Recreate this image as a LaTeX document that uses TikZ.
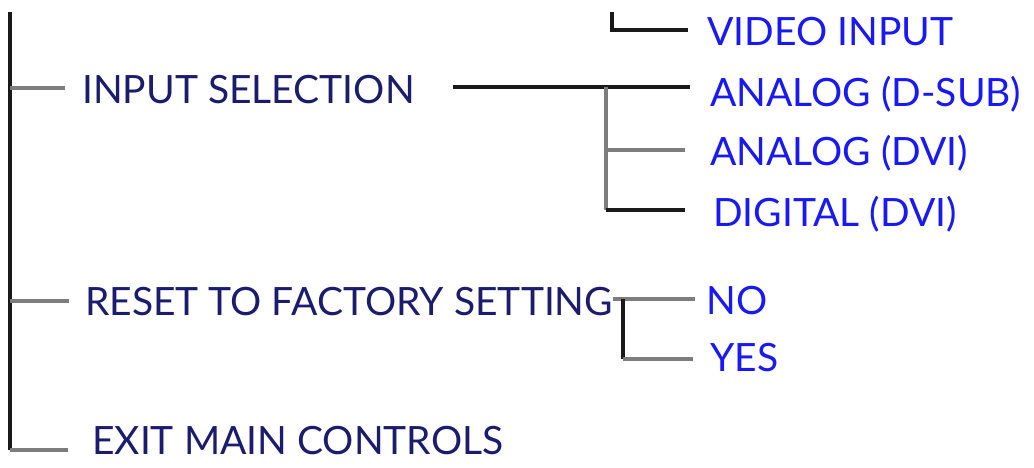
\documentclass[tikz,border=0pt]{standalone}
\usepackage{fontspec}
\setmainfont{Lato}
\definecolor{marine}{RGB}{28,28,110}
\definecolor{bleu}{RGB}{25,25,245}
\definecolor{gristrait}{RGB}{125,125,125}
\definecolor{noirtrait}{RGB}{25,25,25}
\begin{document}
\begin{tikzpicture}[x=1pt,y=-1pt]
    \tikzstyle{lien}=[line width=3.2pt,noirtrait]
    \tikzstyle{lien2}=[line width=3.4pt,gristrait]
\tikzset{menu/.style={anchor=west,inner sep=0pt,text height=28pt,text depth=0pt,
font=\fontsize{39}{39}\selectfont,text=#1},
menu/.default={marine}}
\useasboundingbox (0,0) rectangle (1034,467);

\node[menu] (insel) at (82,89){INPUT SELECTION};
\node[menu] (reset) at (85,301){RESET TO FACTORY SETTING};
\node[menu] (exit) at (92,440){EXIT MAIN CONTROLS};

\node[menu=bleu] (video) at (707,31){VIDEO INPUT};
\node[menu=bleu] (dsub) at (710,92){ANALOG (D-SUB)};
\node[menu=bleu] (advi) at (710,151){ANALOG (DVI)};
\node[menu=bleu] (ddvi) at (713,212){DIGITAL (DVI)};
\node[menu=bleu] (non) at (706,300){NO};
\node[menu=bleu] (oui) at (710,357){YES};

\coordinate (haut) at (10,12);
\coordinate (bas) at (10,450);
\coordinate (t1) at (10,88);
\coordinate (t2) at (10,301);
\coordinate (s0) at (453,87);
\coordinate (s1) at (606,87);
\coordinate (s2) at (606,150);
\coordinate (s3) at (606,210);
\coordinate (v1) at (612,12);
\coordinate (v2) at (612,30);
\coordinate (r1) at (623,299);
\coordinate (r2) at (623,359);

% tronc
\draw[lien] (haut) -- (bas);
\draw[lien2] (t1) -- ([xshift=-17pt]insel.west |- t1);
\draw[lien2] (t2) -- ([xshift=-16pt]reset.west |- t2);
\draw[lien2] (bas) -- ([xshift=-24pt]exit.west |- bas);

% input selection
\draw[lien] (s0) -- ([xshift=-20pt]dsub.west |- s1);
\draw[lien2] (s1) -- (s3);
\draw[lien2] (s2) -- ([xshift=-25pt]advi.west |- s2);
\draw[lien] (s3) -- ([xshift=-28pt]ddvi.west |- s3);
\draw[lien] (v1) -- (v2) -- ([xshift=-19pt]video.west |- v2);

% reset
\draw[lien2] (reset.east |- r1) -- ([xshift=-11pt]non.west |- r1);
\draw[lien] (r1) -- (r2);
\draw[lien2] (r2) -- ([xshift=-17pt]oui.west |- r2);
\end{tikzpicture}
\end{document}
